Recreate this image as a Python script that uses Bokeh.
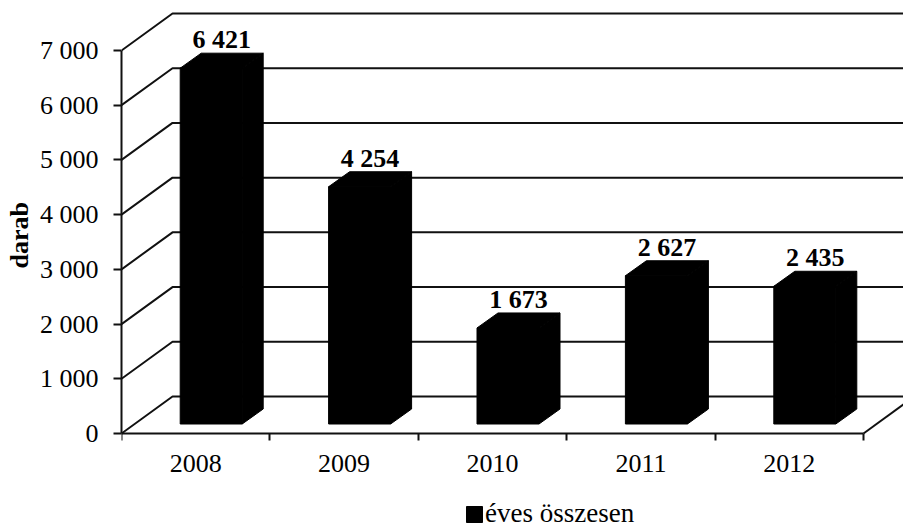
from bokeh.plotting import figure
from bokeh.models import FixedTicker, Legend, LegendItem, ColumnDataSource, Title
from bokeh.embed import file_html
from bokeh.resources import INLINE
from bokeh.core.properties import value

# ---- data ----
years = ["2008", "2009", "2010", "2011", "2012"]
counts = [6421, 4254, 1673, 2627, 2435]
count_labels = ["6 421", "4 254", "1 673", "2 627", "2 435"]
y_ticks = [0, 1000, 2000, 3000, 4000, 5000, 6000, 7000]
y_tick_labels = ["0", "1 000", "2 000", "3 000", "4 000", "5 000", "6 000", "7 000"]
series_name = "éves összesen"
y_title = "darab"

# ---- geometry / style ----
FONT = "Liberation Serif"
W, H = 903, 527
LEFT = 121
FLOOR_PX = 433        # screen row of value 0
PX_X = 148.4          # px per category
PX_Y = 383 / 7000     # px per unit of value
X0 = -0.5
X1 = X0 + (W - LEFT) / PX_X
Y0 = -(H - FLOOR_PX) / PX_Y
Y1 = FLOOR_PX / PX_Y

WALL_DX, WALL_DY = 51 / PX_X, 37 / PX_Y
BAR_W, BAR_OFF = 62 / PX_X, 15.5 / PX_X
BAR_DX, BAR_DY = 21 / PX_X, 15 / PX_Y
BAR_BASE, BAR_LIFT = 9.5 / PX_Y, 14.0 / PX_Y
LABEL_GAP = 13.5 / PX_Y
LINE = "#111111"
LW = 2

n = len(years)
idx = list(range(n))
p = figure(width=W, height=H, x_range=(X0, X1), y_range=(Y0, Y1),
           output_backend="svg", toolbar_location=None,
           min_border_left=LEFT, min_border_right=0, min_border_top=0,
           min_border_bottom=0)
p.outline_line_color = None
p.xgrid.visible = False
p.ygrid.visible = False
p.background_fill_color = "white"
p.border_fill_color = "white"

# walls: left wall diagonals + back wall lines
xs_w = [[X0, X0 + WALL_DX, X1 + 1] for _ in y_ticks]
ys_w = [[t, t + WALL_DY, t + WALL_DY] for t in y_ticks]
p.multi_line(xs_w, ys_w, line_color=LINE, line_width=LW)
# floor right edge
p.line([X0 + n, X0 + n + WALL_DX], [0, WALL_DY], line_color=LINE, line_width=LW)

# bars: front face
front_x = [i + BAR_OFF for i in idx]
tops = [c + BAR_LIFT for c in counts]
src = ColumnDataSource(dict(x=front_x, top=tops, bottom=[BAR_BASE] * n))
front = p.vbar(x="x", top="top", bottom="bottom", width=BAR_W, source=src,
               fill_color="black", line_color="black", line_width=1)

# top and side faces
top_xs, top_ys, side_xs, side_ys = [], [], [], []
for fx, t in zip(front_x, tops):
    l, r = fx - BAR_W / 2, fx + BAR_W / 2
    top_xs.append([l, l + BAR_DX, r + BAR_DX, r])
    top_ys.append([t, t + BAR_DY, t + BAR_DY, t])
    side_xs.append([r, r, r + BAR_DX, r + BAR_DX])
    side_ys.append([BAR_BASE, t, t + BAR_DY, BAR_BASE + BAR_DY])
p.patches(top_xs, top_ys, fill_color="black", line_color="black", line_width=1)
p.patches(side_xs, side_ys, fill_color="black", line_color="black", line_width=1)

# value labels
p.text(x=[fx + BAR_DX / 2 for fx in front_x],
       y=[t + BAR_DY + LABEL_GAP for t in tops],
       text=count_labels, text_align="center", text_baseline="alphabetic",
       text_font=value(FONT), text_font_size="26px", text_font_style="bold",
       text_color="black")

# y axis
ya = p.yaxis[0]
ya.ticker = FixedTicker(ticks=y_ticks)
ya.major_label_overrides = {t: s for t, s in zip(y_ticks, y_tick_labels)}
ya.bounds = (0, y_ticks[-1])
ya.major_label_text_font = FONT
ya.major_label_text_font_size = "26px"
ya.major_label_text_color = "black"
ya.major_tick_out = 8
ya.major_tick_in = 0
ya.minor_tick_out = 0
ya.minor_tick_in = 0
ya.major_label_standoff = 15
ya.axis_line_color = LINE
ya.axis_line_width = LW
ya.major_tick_line_color = LINE
ya.major_tick_line_width = LW

# y title, placed beside the 0..7000 span
p.add_layout(Title(text=y_title, align="left", offset=259, standoff=5,
                   text_font=FONT, text_font_size="26px",
                   text_font_style="bold", text_color="black"), "left")

# x axis (drawn at the floor line, value 0)
xa = p.xaxis[0]
xa.fixed_location = 0
xa.ticker = FixedTicker(ticks=idx, minor_ticks=[i - 0.5 for i in range(n + 1)])
xa.major_label_overrides = {i: y for i, y in zip(idx, years)}
xa.bounds = (X0, X0 + n)
xa.major_label_text_font = FONT
xa.major_label_text_font_size = "26px"
xa.major_label_text_color = "black"
xa.major_tick_out = 0
xa.major_tick_in = 0
xa.minor_tick_out = 7
xa.minor_tick_in = 0
xa.minor_tick_line_color = LINE
xa.minor_tick_line_width = LW
xa.major_label_standoff = 14
xa.axis_line_color = LINE
xa.axis_line_width = LW

legend = Legend(items=[LegendItem(label=series_name, renderers=[front])],
                location=(343, -2), orientation="horizontal",
                glyph_width=20, glyph_height=20, label_standoff=1,
                padding=0, margin=0, spacing=0,
                border_line_color=None, background_fill_alpha=0,
                label_text_font=FONT, label_text_font_size="27px",
                label_text_color="black")
p.add_layout(legend)

open("out.html", "w").write(file_html(p, INLINE))
